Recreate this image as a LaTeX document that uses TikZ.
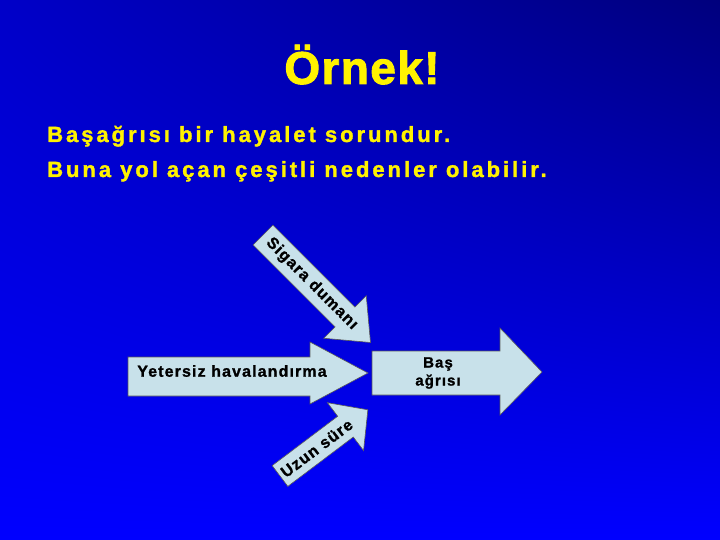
\documentclass[tikz,border=0pt]{standalone}
\usepackage{fontspec}
\setmainfont{Liberation Sans}
\usetikzlibrary{positioning,shadings}

\definecolor{slideblue}{RGB}{0,0,255}
\definecolor{slidemid}{RGB}{0,0,200}
\definecolor{slidenavy}{RGB}{0,0,125}
\definecolor{arrowfill}{RGB}{200,225,234}

\tikzset{
	blockarrow/.style={fill=arrowfill, draw=black!65, line width=0.6pt},
	arrowtext/.style={font={\bfseries\fontsize{16}{18}\selectfont\addfontfeature{LetterSpace=7,FakeBold=1.2}}, inner sep=0pt},
	slidetext/.style={text=yellow, anchor=base west, inner sep=0pt,
		font={\bfseries\fontsize{22}{26}\selectfont\addfontfeature{LetterSpace=13.5,FakeBold=1.5}}}
}

\begin{document}
\begin{tikzpicture}[x=1pt, y=-1pt]
			\useasboundingbox (0,0) rectangle (720,540);
			\shade[upper left=slidemid, upper right=slidenavy, lower left=slideblue, lower right=slideblue] (0,0) rectangle (720,540);

			% title and the two lines under it
			\node[text=yellow, anchor=base, inner sep=0pt, font={\bfseries\fontsize{46}{50}\selectfont\addfontfeature{LetterSpace=3,FakeBold=2}}] (title) at (362,84) {Örnek!};
			\node[slidetext] (line1) at (47,142) {Başağrısı bir hayalet sorundur.};
			\node[slidetext] (line2) at ([yshift=-35pt]line1.base west) {Buna yol açan çeşitli nedenler olabilir.};

			% causes
			\begin{scope}[shift={(263,235)}, rotate=-45]
				\draw[blockarrow] (0,-14) -- (116,-14) -- (116,-30) -- (152,0) -- (116,30) -- (116,14) -- (0,14) -- cycle;
				\node[arrowtext, rotate=-45] (smoke) at (69,0) {Sigara dumanı};
			\end{scope}

			\draw[blockarrow] (128,357) -- (310,357) -- (310,342) -- (368,373) -- (310,404) -- (310,396) -- (128,396) -- cycle;
			\node[arrowtext] (vent) at (232,371) {Yetersiz havalandırma};

			\begin{scope}[shift={(280,476)}, rotate=37]
				\draw[blockarrow] (0,-13) -- (82,-13) -- (82,-30) -- (110,0) -- (82,30) -- (82,13) -- (0,13) -- cycle;
				\node[arrowtext, rotate=37] (longtime) at (46,0) {Uzun süre};
			\end{scope}

			% result
			\draw[blockarrow] (372,351) -- (500,351) -- (500,328) -- (542,372) -- (500,415) -- (500,395) -- (372,395) -- cycle;
			\node[arrowtext, align=center, font={\bfseries\fontsize{15}{18}\selectfont\addfontfeature{LetterSpace=7,FakeBold=1.2}}] (headache) at (438,373) {Baş\\ağrısı};
		\end{tikzpicture}
\end{document}
